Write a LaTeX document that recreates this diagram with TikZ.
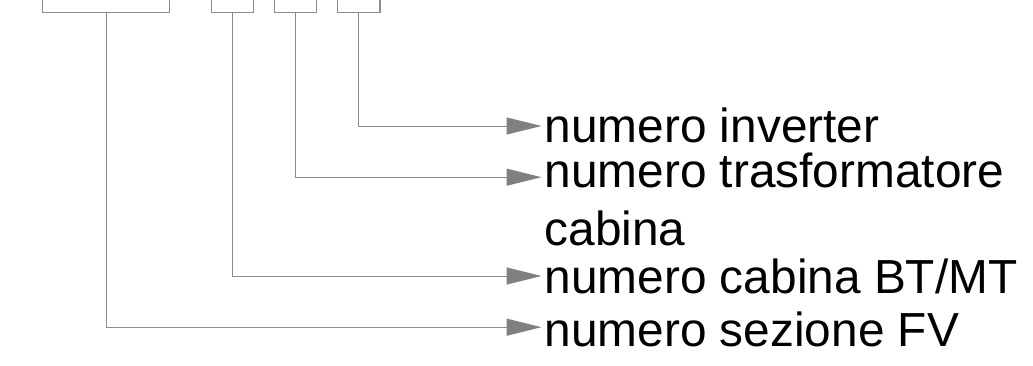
\documentclass[tikz,border=0pt]{standalone}
\usepackage{fontspec}
\setmainfont{Liberation Sans}
\usetikzlibrary{arrows.meta}
\definecolor{lgray}{HTML}{8C8C8C}
\definecolor{agray}{HTML}{808080}
\begin{document}
\begin{tikzpicture}[x=1pt,y=1pt,
  cbox/.style={draw=lgray,line width=1.2pt,minimum height=60pt,inner sep=0pt,anchor=south},
  conn/.style={draw=lgray,line width=1pt,-{Triangle[length=35pt,width=17pt,fill=agray,color=agray]}},
  lab/.style={anchor=base west,inner sep=0pt,font=\fontsize{47.8}{52}\selectfont}]
\useasboundingbox (0,0) rectangle (1033,365);
\clip (0,0) rectangle (1033,365);
\node[cbox,minimum width=126.6pt] (b1) at (106,351.7) {};
\node[cbox,minimum width=42pt] (b2) at (232.3,351.7) {};
\node[cbox,minimum width=42.4pt] (b3) at (295.5,351.7) {};
\node[cbox,minimum width=42.3pt] (b4) at (358.8,351.7) {};
\coordinate (e1) at (541.5,239);
\coordinate (e2) at (541.5,187.8);
\coordinate (e3) at (541.5,89);
\coordinate (e4) at (541.5,37.8);
\node[lab] (l1) at (544.5,223) {numero inverter};
\node[lab] (l2) at (544.5,178) {numero trasformatore};
\node[lab] (l2b) at (544.5,120) {cabina};
\node[lab] (l3) at (544.5,72) {numero cabina BT/MT};
\node[lab] (l4) at (544.5,18.5) {numero sezione FV};
\draw[conn] (b4.south) |- (e1);
\draw[conn] (b3.south) |- (e2);
\draw[conn] (b2.south) |- (e3);
\draw[conn] (b1.south) |- (e4);
\end{tikzpicture}
\end{document}
